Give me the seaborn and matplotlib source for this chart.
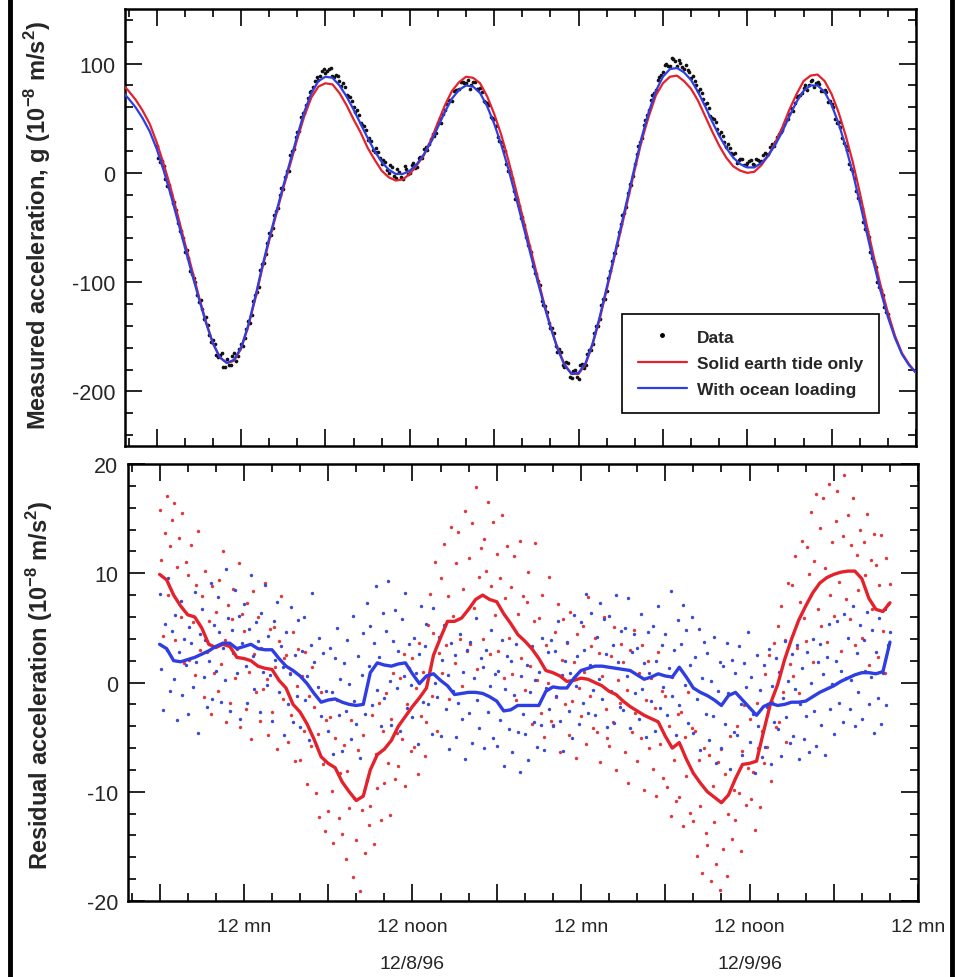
import numpy as np
import pandas as pd
import matplotlib
matplotlib.use("Agg")
import matplotlib.pyplot as plt
from matplotlib.lines import Line2D
from matplotlib.ticker import FixedLocator, MultipleLocator, FuncFormatter
import seaborn as sns

# ---- datos (horas desde 12 mn del 12/8/96) ----
model_hours = np.linspace(-8.5, 48.0, 114)
ocean_tide = [75, 68, 60, 50, 38, 22, 2, -20, -44, -68, -92, -115, -137, -156, -169, -174, -171,
              -160, -140, -114, -86, -60, -36, -12, 11, 34, 56, 73, 84, 88, 87, 80, 70, 58, 45, 32,
              20, 10, 3, -1, -1, 2, 8, 17, 28, 42, 56, 68, 76, 80, 79, 73, 61, 45, 26, 4, -20,
              -45, -70, -95, -119, -141, -161, -176, -184, -183, -174, -156, -132, -105, -78, -50,
              -22, 6, 33, 56, 75, 88, 95, 96, 92, 85, 74, 61, 47, 34, 23, 14, 8, 5, 5, 9, 16, 26,
              38, 52, 65, 75, 80, 80, 74, 62, 45, 24, 0, -27, -55, -83, -109, -132, -151, -166,
              -176, -183]
solid_tide = [82, 75, 67, 57, 45, 28, 8, -14, -39, -64, -88, -113, -136, -156, -169, -174, -172,
              -161, -141, -116, -88, -62, -38, -14, 8, 31, 52, 69, 79, 82, 81, 73, 62, 49, 37, 23,
              12, 2, -4, -7, -6, -1, 7, 16, 30, 46, 62, 75, 83, 88, 87, 82, 70, 54, 35, 12, -13,
              -39, -65, -91, -117, -140, -160, -175, -184, -184, -175, -157, -134, -107, -80, -53,
              -25, 3, 30, 52, 71, 82, 88, 89, 84, 77, 66, 52, 38, 25, 14, 6, 2, 0, 1, 7, 16, 28,
              42, 58, 72, 84, 89, 90, 84, 72, 55, 34, 10, -18, -48, -77, -104, -128, -149, -165,
              -175, -183]

# medidas en los cuartos de hora
data_hours = np.linspace(-6.0, 46.0, 209)
g_data = [25, 10, 6, -12, -19, -27, -46, -53, -72, -78, -93, -99.5, -118, -125, -132, -148.5,
          -153, -166.5, -167, -177.5, -170, -175.5, -165, -167.5, -157, -151, -136, -130,
          -112, -104, -83, -74, -55, -50, -35, -20, -15, 1.5, 16, 21.5, 37, 51, 55, 68.5,
          75, 84.5, 85, 93, 91, 95.5, 89, 89.5, 84, 82, 71, 69, 60, 57.5, 46, 42.5,
          30, 29, 19, 19, 8, 9.5, 0, 5, -5, 1, -6, 3.5, 0, 9, 5, 14.5, 22, 20.5, 31, 34,
          46, 46, 58, 67, 66, 76, 77, 83, 82, 76.5, 83, 77, 78, 66, 64, 51, 49, 32.5, 28, 20,
          2, -5, -24, -30.5, -40, -58.5, -67, -85.5, -93, -103, -121, -127, -142, -147, -164, -163.5,
          -178, -174, -188, -180.5, -189, -174.5, -176, -162, -157, -140, -134, -115.5,
          -108, -89.5, -73, -66, -47, -37, -18, -11, 8, 24.5, 32, 48.5, 58, 71.5, 76, 87.5,
          92, 99.5, 98, 104.5, 98, 101, 95, 94.5, 87, 84.5, 75, 73.5, 63, 59, 50, 46.5,
          36, 33.5, 24, 22.5, 17, 9, 13, 7.5, 9, 12, 7, 12, 11, 18.5, 17, 26, 28, 36, 39, 48,
          54, 56.5, 69, 71, 78, 75.5, 84, 79, 83, 75, 76, 65, 63, 49.5, 47, 31.5,
          25, 8, 2, -16.5, -26, -45, -53, -72, -82, -100, -107, -122.5, -129]
# medidas intermedias (octavos de hora)
data_hours_b = np.linspace(-5.875, 45.875, 208)
g_data_b = [14, 11, -5.5, -11.5, -28, -34, -53, -60, -71, -90, -95.8, -112,
            -116.5, -133.5, -138.8, -155, -157, -168.8, -165, -177.8, -175.5, -167.8, -172, -160.8,
            -158, -143, -137.5, -117.5, -109, -89, -82.5, -64.5, -57, -39, -32, -14,
            -4, 2, 20, 33, 38.5, 54.5, 62, 74, 79, 88, 89, 95,
            93, 96, 88, 89, 79.5, 78.5, 70, 66, 56, 53, 44, 39,
            32, 21, 22.5, 13.5, 12, 3, 7, -3, 4, -4, 6, -1,
            7.5, 4.5, 14, 14, 24, 26, 35.5, 36.5, 50.5, 53.5, 63, 67,
            75, 76, 83, 82, 85, 80, 83.5, 76.5, 74, 65, 62, 50,
            43, 29, 24.5, 8.5, 2, -17, -24, -41, -48, -66, -72, -92,
            -99, -117, -121.5, -137.5, -142, -158, -161, -176, -173, -187, -181, -187,
            -176, -179, -165.5, -162.5, -147, -140, -121, -115, -96, -81, -73, -54,
            -39, -31, -10, -3, 17, 28, 44, 53, 67, 73, 85, 90,
            99, 98, 105, 102, 103, 97, 99, 92, 89, 80, 77, 68,
            63.5, 52.5, 49, 40, 37, 28, 26, 18, 18.5, 11.5, 13, 7,
            11, 8, 13, 10, 16, 16, 23.5, 24.5, 33, 37, 44.5, 49.5,
            59, 64, 70.5, 73.5, 80, 80, 85, 82, 81.5, 74.5, 74, 66,
            60, 46, 42, 27, 21, 4, -5, -23, -32, -51, -59, -78,
            -86.5, -104.5, -112, -127]

mean_hours = np.linspace(-6.0, 46.0, 105)
solid_mean = [9.9, 9.4, 8.0, 7.0, 6.2, 6.0, 5.0, 3.5, 3.2, 3.5, 3.3, 2.3,
              2.2, 2.0, 1.5, 1.3, 1.2, 0.2, -0.5, -2.0, -2.7, -3.8, -5.2, -6.8,
              -7.4, -7.8, -9.1, -10.0, -10.8, -10.4, -8.0, -6.6, -6.1, -5.3, -4.0, -3.1,
              -2.2, -1.4, -0.5, 2.5, 4.1, 5.6, 5.6, 5.9, 6.7, 7.6, 8.0, 7.6,
              7.4, 6.3, 5.4, 4.4, 3.8, 3.1, 2.2, 1.1, 0.9, 0.6, 0.1, 0.2,
              0.4, 0.3, 0.0, -0.3, -0.8, -1.1, -1.7, -2.2, -2.6, -3.0, -3.3, -3.6,
              -4.9, -6.0, -5.5, -7.0, -8.3, -9.2, -10.0, -10.5, -11.0, -10.3, -8.8, -7.5,
              -7.4, -7.2, -4.5, -1.9, -0.2, 2.1, 4.0, 5.7, 7.0, 8.2, 9.1, 9.6,
              9.9, 10.1, 10.2, 10.2, 9.5, 7.7, 6.7, 6.5, 7.3]
ocean_mean = [3.5, 3.1, 2.0, 1.9, 2.1, 2.3, 2.6, 2.9, 3.3, 3.6, 3.6, 3.1,
              3.3, 3.5, 3.1, 3.0, 3.0, 2.2, 1.5, 1.1, 0.6, -0.1, -1.0, -1.8,
              -1.6, -1.5, -1.8, -2.0, -2.1, -2.0, 0.9, 1.8, 1.6, 1.5, 1.7, 1.8,
              0.8, -0.1, 0.6, 0.8, 0.2, -0.3, -1.1, -1.0, -0.9, -0.9, -1.0, -1.3,
              -1.7, -2.6, -2.5, -2.1, -2.1, -2.1, -2.1, -0.8, -0.4, -0.5, -0.5, 0.4,
              1.1, 1.3, 1.5, 1.5, 1.4, 1.3, 1.2, 1.1, 0.7, 0.3, 0.5, 0.8,
              0.6, 0.5, 1.4, 0.5, -0.5, -0.9, -1.2, -1.6, -2.1, -1.2, -0.9, -1.6,
              -2.3, -3.0, -2.2, -1.9, -2.1, -2.0, -1.8, -1.8, -1.7, -1.3, -0.9, -0.6,
              -0.3, 0.1, 0.4, 0.7, 0.9, 0.9, 0.8, 1.0, 3.7]

resid_hours = np.linspace(-6.0, 46.0, 417)
solid_resid = [15.8, 11.2, 4.3, 13.7, 17.1, 8.0, 12.5, 14.9,
               16.4, 3.9, 10.6, 13.2, 6.0, 15.5, 1.8, 11.0,
               9.8, 2.1, 12.6, 5.5, 0.7, 8.9, 13.9, 3.0,
               7.9, -1.3, 10.2, 2.8, 5.6, -2.9, 8.8, 0.9,
               6.5, -0.8, 9.4, 1.7, 12.0, 3.9, -3.6, 7.1,
               -1.9, 5.8, 8.6, 0.4, 3.1, 10.9, -4.1, 6.3,
               4.7, -2.4, 7.3, 1.0, -5.2, 8.4, 2.6, -0.9,
               6.0, -3.5, 3.2, -0.6, 9.1, 0.3, -4.8, 4.9,
               -2.7, 5.1, 1.4, -6.1, 3.8, 7.9, -1.5, 2.2,
               2.5, -5.4, 0.9, -3.0, 4.6, -7.2, -0.3, 3.1,
               -7.1, 0.6, -4.4, 2.8, -9.3, -1.2, -5.8, 1.4,
               -2.2, -10.1, -4.7, -12.3, -0.9, -7.5, -13.6, -3.4,
               -11.8, -3.2, -9.9, -14.7, -5.1, -1.6, -12.4, -8.3,
               -13.9, -5.7, -16.2, -8.1, -11.5, -3.4, -17.8, -10.6,
               -14.4, -6.2, -19.1, -11.7, -4.8, -15.6, -8.9, -13.0,
               -11.3, -3.0, -14.8, -6.5, -9.7, -1.9, -12.6, -4.4,
               -9.2, -1.0, -7.4, -12.1, -3.3, 0.9, -8.8, -4.6,
               -7.6, 0.4, -5.2, 2.6, -9.5, -2.0, 1.3, -6.3,
               2.2, -5.9, -0.5, -8.4, 3.6, -3.1, 1.0, -6.7,
               -3.6, 5.3, 8.1, -1.2, 4.5, 11.0, -4.4, 2.7,
               9.6, 0.9, 12.7, 3.4, 7.9, -1.5, 14.2, 6.1,
               1.8, 10.9, 13.8, 4.0, -0.3, 8.6, 15.7, 2.9,
               11.4, 3.5, 14.6, 6.8, 17.9, 1.2, 9.7, 12.3,
               4.0, 13.1, 10.2, 16.5, 2.6, 8.8, 14.7, 6.2,
               11.8, 2.9, 9.6, 15.3, 0.4, 7.7, 12.5, 4.1,
               8.7, 0.8, 11.6, -1.6, 6.3, 13.0, 2.2, 7.9,
               -0.7, 7.4, 10.1, 1.5, -3.8, 5.6, 12.8, 0.2,
               5.9, -2.8, 8.0, -5.0, 3.4, 0.0, 9.7, -3.5,
               -3.9, 4.6, -1.3, 7.2, -6.4, 2.1, 5.8, -2.0,
               3.6, -4.8, 6.5, -1.7, 1.9, -6.9, 4.4, -0.5,
               -3.1, 5.2, 1.0, -5.6, 7.8, -1.2, 3.3, -4.2,
               4.1, -4.5, 2.7, -7.3, 0.6, 6.0, -2.4, -5.1,
               -5.8, 2.4, -3.6, 5.1, -8.0, 0.2, -1.9, 3.5,
               1.9, -6.4, -0.7, -9.2, 3.0, -4.5, 4.8, -2.8,
               -7.2, 0.9, -5.1, 3.4, -9.8, -1.6, 2.0, -6.0,
               0.4, -7.9, -2.3, -10.4, 2.8, -5.6, -0.8, -8.7,
               -1.2, -9.6, -4.0, -12.2, 0.5, -7.1, -10.8, -2.9,
               -10.5, -2.7, -13.1, -5.0, -8.6, -0.9, -11.9, -4.2,
               -12.7, -4.4, -15.9, -7.1, -11.3, -17.4, -6.0, -13.8,
               -14.9, -6.6, -18.2, -9.5, -12.8, -16.6, -7.3, -19.0,
               -6.1, -15.2, -8.4, -17.7, -12.0, -4.9, -14.3, -9.8,
               -12.6, -4.0, -10.1, -15.4, -6.3, -2.1, -11.2, -7.8,
               -3.3, -10.7, -8.2, -13.5, -1.9, -6.0, -11.4, -4.4,
               -7.4, 0.8, -5.9, 2.5, -9.0, -1.8, 3.6, -4.1,
               5.2, -3.6, 7.0, -0.9, 3.9, -5.4, 9.1, 1.7,
               8.9, 0.6, 11.6, 3.2, -1.0, 7.4, 13.0, 5.9,
               3.8, 12.4, 9.9, 15.6, 1.9, 11.1, 17.3, 6.7,
               14.1, 5.2, 16.9, 10.5, 3.7, 18.2, 8.0, 12.9,
               6.1, 14.8, 17.5, 9.2, 2.9, 13.4, 19.0, 7.6,
               15.3, 5.8, 12.6, 16.9, 3.4, 11.7, 8.5, 14.0,
               4.1, 12.9, 9.8, 15.4, 1.6, 11.2, 6.7, 13.6,
               10.8, 2.3, 8.9, 13.5, 4.7, 0.9, 11.4, 7.2,
               9.0]
ocean_resid = [8.1, 1.2, -2.5, 5.4, 3.0, 9.6, -0.8, 4.7,
               0.3, 6.2, -3.4, 2.8, 7.5, -1.1, 4.0, 1.6,
               -2.9, 5.1, 3.6, -0.4, 8.3, 1.9, -4.6, 4.4,
               6.7, 0.5, 3.9, -2.2, 2.0, 9.1, -1.5, 5.3,
               1.1, 7.8, 4.6, -1.8, 3.2, 0.2, 10.4, 5.9,
               -2.6, 4.8, 2.7, 8.5, 0.9, 6.1, -3.3, 3.6,
               7.2, 1.5, -1.9, 4.9, 9.8, 2.4, -0.6, 5.5,
               3.8, -2.7, 6.4, 1.0, 8.9, -0.2, 4.3, 0.7,
               -3.5, 5.6, 2.1, 7.4, -0.9, 3.3, 1.4, -4.8,
               4.6, -2.0, 0.8, 6.9, -3.6, 2.5, -1.2, 5.7,
               -4.1, 2.9, 6.0, -1.6, 0.6, -5.3, 3.4, 8.2,
               1.9, -5.7, -0.4, 4.1, -3.1, 2.7, -7.2, -0.8,
               -4.4, 3.2, -0.9, -6.5, 2.2, 5.0, -3.0, 0.3,
               -6.3, 1.8, -2.6, 3.9, -0.1, -5.2, 6.1, -1.7,
               -3.8, 2.4, -6.9, 0.7, 4.5, -2.9, 7.3, 1.5,
               5.2, -2.1, 3.6, 8.8, -0.7, 2.3, -4.0, 6.4,
               -1.4, 4.7, 9.3, 0.1, -3.9, 3.8, 6.6, -0.5,
               2.9, -4.4, 5.8, 0.6, 8.2, -2.3, 3.5, -0.2,
               -3.2, 4.1, 0.9, -5.6, 2.6, 7.0, -1.8, 3.3,
               5.4, -2.0, 1.2, -4.7, 6.8, 0.0, -1.3, 4.2,
               -4.9, 2.1, 5.3, -2.4, 0.7, -6.1, 3.6, -0.8,
               2.5, -5.0, -1.9, 4.4, -3.3, 1.0, -7.0, 3.0,
               -2.8, 3.7, -5.5, 0.4, 5.9, -1.6, -4.2, 2.2,
               1.4, -6.0, 3.0, -2.7, -0.3, 4.8, -5.1, 0.8,
               -5.8, 1.1, -3.4, 3.9, -7.6, -0.6, 2.4, -4.3,
               2.0, -6.4, -1.1, 3.5, -4.5, -8.2, 0.6, -2.9,
               -4.7, 1.6, -7.1, -0.9, 3.3, -3.6, 0.2, -5.9,
               1.0, -3.9, 4.1, -6.2, -0.5, 2.8, -2.4, 3.9,
               -4.0, 2.9, -1.2, 5.6, -3.5, 0.7, -6.3, 2.0,
               3.7, -2.6, 0.9, -5.1, 6.2, -0.3, 2.4, -3.8,
               5.5, -1.9, 3.0, 8.1, -2.8, 1.6, 6.4, -0.7,
               -3.0, 4.2, 0.3, 7.3, -1.5, 5.8, 2.6, -4.1,
               6.1, -0.8, 3.4, -3.7, 8.0, 1.9, -2.2, 4.7,
               -2.5, 5.0, 0.6, 7.7, -4.2, 2.8, 4.4, -1.0,
               3.2, -3.3, 6.3, -0.6, 1.8, -5.0, 4.6, 0.9,
               -1.7, 5.2, -4.4, 2.0, 7.0, -2.3, 3.4, -0.4,
               4.4, -3.0, 1.3, 8.4, -1.2, 3.0, -4.8, 5.7,
               -2.1, 3.5, 7.1, -0.2, 4.8, -3.7, 1.6, 6.0,
               -4.6, 2.3, -1.5, 4.9, -6.2, 0.4, 3.7, -2.9,
               2.7, -5.3, 0.1, -3.1, 4.2, -7.4, -0.8, 1.9,
               -6.0, 1.5, -3.8, 3.6, -1.0, -7.9, 2.1, -4.5,
               0.9, -4.8, 3.3, -2.0, -6.6, 1.8, -0.4, 4.6,
               -5.4, 0.5, -2.9, -8.3, 2.5, -4.0, -0.7, -6.8,
               1.6, -5.9, -2.2, 3.1, -7.5, -0.3, -3.6, 2.2,
               -4.3, 1.0, -6.7, -1.4, 3.8, -3.2, 0.1, -5.5,
               2.6, -4.9, -0.6, 3.4, -7.0, -2.0, 1.3, -5.2,
               -3.1, 2.8, -6.4, 0.0, 4.0, -2.6, -5.8, 1.9,
               3.5, -3.9, 0.8, -6.6, 2.3, 5.4, -2.4, -0.1,
               -4.7, 2.0, 5.6, -1.9, 1.1, -3.6, 6.3, 0.4,
               4.1, -2.4, 0.2, 7.0, -4.0, 2.7, -0.9, 5.3,
               -3.3, 3.9, 1.1, 6.5, -2.0, 0.5, 4.8, -4.6,
               2.8, -1.4, 5.9, -3.8, 0.9, 6.7, -2.1, 3.4,
               4.6]

x_ticklabels = {0: "12 mn", 12: "12 noon", 24: "12 mn", 36: "12 noon", 48: "12 mn"}
date_labels = {12: "12/8/96", 36: "12/9/96"}

RED = "#e3222b"
BLUE = "#2e3ee2"

sns.set_style("ticks")
plt.rcParams["font.family"] = ["Liberation Sans", "DejaVu Sans"]
plt.rcParams["axes.unicode_minus"] = False
plt.rcParams["mathtext.fontset"] = "custom"
plt.rcParams["mathtext.rm"] = "Liberation Sans"
plt.rcParams["mathtext.bf"] = "Liberation Sans:bold"

fig = plt.figure(figsize=(9.56, 9.78), dpi=100)
ax1 = fig.add_axes([0.1308, 0.5429, 0.8274, 0.4469])
ax2 = fig.add_axes([0.1339, 0.0777, 0.8264, 0.4468])

top_df = pd.DataFrame({"hora": np.concatenate([data_hours, data_hours_b]),
                       "g": g_data + g_data_b})
model_df = pd.DataFrame({"hora": model_hours, "solid": solid_tide, "ocean": ocean_tide})

sns.scatterplot(data=top_df, x="hora", y="g", ax=ax1, color="#111111", s=7,
                linewidth=0, zorder=2)
sns.lineplot(data=model_df, x="hora", y="solid", ax=ax1, color=RED, lw=1.6, zorder=3)
sns.lineplot(data=model_df, x="hora", y="ocean", ax=ax1, color=BLUE, lw=1.6, zorder=4)

res_df = pd.DataFrame({"hora": resid_hours, "solid": solid_resid, "ocean": ocean_resid})
mean_df = pd.DataFrame({"hora": mean_hours, "solid": solid_mean, "ocean": ocean_mean})
sns.scatterplot(data=res_df, x="hora", y="solid", ax=ax2, color="#e0393d", s=6,
                linewidth=0, zorder=2)
sns.scatterplot(data=res_df, x="hora", y="ocean", ax=ax2, color="#3a49d6", s=6,
                linewidth=0, zorder=2)
sns.lineplot(data=mean_df, x="hora", y="solid", ax=ax2, color=RED, lw=2.4, zorder=3)
sns.lineplot(data=mean_df, x="hora", y="ocean", ax=ax2, color=BLUE, lw=2.4, zorder=4)

ax1.set_ylim(-250, 150)
ax2.set_ylim(-20, 20)
ax1.yaxis.set_major_locator(FixedLocator([-200, -100, 0, 100]))
ax1.yaxis.set_minor_locator(MultipleLocator(20))
ax2.yaxis.set_major_locator(FixedLocator([-20, -10, 0, 10, 20]))
ax2.yaxis.set_minor_locator(MultipleLocator(2))

for ax in (ax1, ax2):
    ax.set_xlim(-8.25, 48)
    ax.xaxis.set_major_locator(FixedLocator(list(range(-6, 49, 6))))
    ax.xaxis.set_minor_locator(MultipleLocator(2))
    ax.tick_params(which="both", direction="in", top=True, right=True, width=1.2,
                   color="black")
    ax.tick_params(which="major", length=12)
    ax.tick_params(which="minor", length=6)
    ax.tick_params(axis="y", labelsize=15.5, pad=7)
    ax.set_xlabel("")
    ax.set_ylabel("")
    for sp in ax.spines.values():
        sp.set_linewidth(1.8)
        sp.set_color("black")

ax1.tick_params(axis="x", labelbottom=False)
ax2.xaxis.set_major_formatter(FuncFormatter(lambda v, p: x_ticklabels.get(int(round(v)), "")))
ax2.tick_params(axis="x", labelsize=14, pad=12)

for h, lab in date_labels.items():
    ax2.text(h, -0.142, lab, transform=ax2.get_xaxis_transform(), ha="center",
             va="center", fontsize=14)

fig.text(38 / 956, 1 - 226 / 978,
         r"Measured acceleration, g (10$^{\mathbf{-8}}$ m/s$^{\mathbf{2}}$)",
         rotation=90, ha="center", va="center", fontsize=17, fontweight="bold")
fig.text(40 / 956, 1 - 685 / 978,
         r"Residual acceleration (10$^{\mathbf{-8}}$ m/s$^{\mathbf{2}}$)",
         rotation=90, ha="center", va="center", fontsize=17, fontweight="bold")

handles = [Line2D([], [], ls="", marker="o", color="black", markersize=2.5, label="Data"),
           Line2D([], [], color=RED, lw=1.6, label="Solid earth tide only"),
           Line2D([], [], color=BLUE, lw=1.6, label="With ocean loading")]
leg = ax1.legend(handles=handles, loc="lower right", bbox_to_anchor=(0.953, 0.0755),
                 borderaxespad=0, frameon=True, fancybox=False, framealpha=1,
                 edgecolor="black", prop={"weight": "bold", "size": 12.5},
                 borderpad=0.9, handlelength=2.8, handletextpad=0.6, labelspacing=0.65)
leg.get_frame().set_linewidth(1.2)

# marco exterior (solo lados)
fig.add_artist(Line2D([9.5 / 956, 9.5 / 956], [0, 1], color="black", lw=3.5))
fig.add_artist(Line2D([952 / 956, 952 / 956], [0, 1], color="black", lw=3.5))

fig.savefig("out.png", dpi=100)
